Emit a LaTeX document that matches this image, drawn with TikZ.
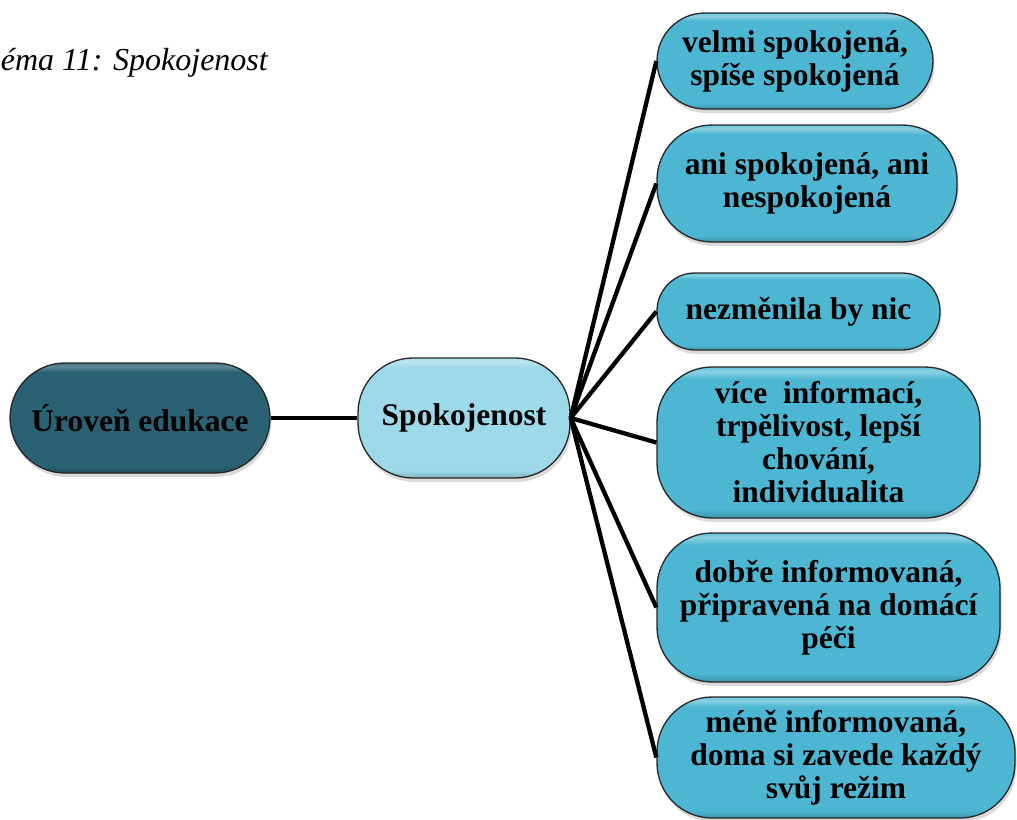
\documentclass[tikz,border=0pt]{standalone}
\usepackage{fontspec}
\setmainfont{Liberation Serif}
\usetikzlibrary{shadows}

\definecolor{edudark}{HTML}{2A6273}
\definecolor{spoklight}{HTML}{9DD9E9}
\definecolor{answerblue}{HTML}{4DB7D3}

% glossy fills: darker rim at the bottom, thin light band under the top edge
\pgfdeclareverticalshading{glossdark}{100bp}{color(0bp)=(edudark!75!black); color(25bp)=(edudark!75!black); color(28bp)=(edudark); color(71bp)=(edudark); color(73.5bp)=(edudark!75!white); color(75bp)=(edudark!90!white); color(100bp)=(edudark!90!white)}
\pgfdeclareverticalshading{glosslight}{100bp}{color(0bp)=(spoklight!80!black); color(25bp)=(spoklight!80!black); color(28bp)=(spoklight); color(71bp)=(spoklight); color(73.5bp)=(spoklight!65!white); color(75bp)=(spoklight!85!white); color(100bp)=(spoklight!85!white)}
\pgfdeclareverticalshading{glossblue}{100bp}{color(0bp)=(answerblue!80!black); color(25bp)=(answerblue!80!black); color(28bp)=(answerblue); color(71bp)=(answerblue); color(73.5bp)=(answerblue!65!white); color(75bp)=(answerblue!85!white); color(100bp)=(answerblue!85!white)}

\tikzset{
  bubble/.style={draw=black!85, line width=1.3pt, align=center, inner sep=0pt,
    font=\bfseries\fontsize{31.5}{33}\selectfont,
    drop shadow={opacity=0.3, shadow xshift=1.5pt, shadow yshift=-4pt}},
  edubox/.style={bubble, shade, shading=glossdark},
  spokbox/.style={bubble, shade, shading=glosslight},
  answerbox/.style={bubble, shade, shading=glossblue},
  link/.style={line width=4.3pt, black},
  caption/.style={font=\itshape\fontsize{32}{34}\selectfont, inner sep=0pt}
}

\begin{document}
\begin{tikzpicture}[x=1pt, y=-1pt]
\useasboundingbox (0,0) rectangle (1017,819);

\node[caption, anchor=base east] (title) at (268,70) {éma 11: Spokojenost};

\node[edubox, minimum width=260pt, minimum height=110pt, rounded corners=55pt] (edu) at (140,418) {Úroveň edukace};
\node[spokbox, minimum width=212pt, minimum height=120pt, rounded corners=55pt] (spok) at (464,418) {Spokojenost};

\node[answerbox, minimum width=276pt, minimum height=96pt, rounded corners=48pt] (a1) at (795,61) {velmi spokojená,\\spíše spokojená};
\node[answerbox, minimum width=300pt, minimum height=117pt, rounded corners=55pt] (a2) at (807,183.5) {ani spokojená, ani\\nespokojená};
\node[answerbox, minimum width=283pt, minimum height=77pt, rounded corners=38pt] (a3) at (798.5,311.5) {nezměnila by nic};
\node[answerbox, minimum width=323pt, minimum height=151pt, rounded corners=55pt] (a4) at (818.5,442.5) {více\ \ informací,\\trpělivost, lepší\\chování,\\individualita};
\node[answerbox, minimum width=343pt, minimum height=149pt, rounded corners=55pt] (a5) at (828.5,607.5) {dobře informovaná,\\připravená na domácí\\péči};
\node[answerbox, minimum width=358pt, minimum height=121pt, rounded corners=55pt] (a6) at (836,757.5) {méně informovaná,\\doma si zavede každý\\svůj režim};

\draw[link] (edu.east) -- (spok.west);
\foreach \n in {a1,a2,a3,a4,a5,a6}
  \draw[link] (spok.east) -- (\n.west);
\end{tikzpicture}
\end{document}
